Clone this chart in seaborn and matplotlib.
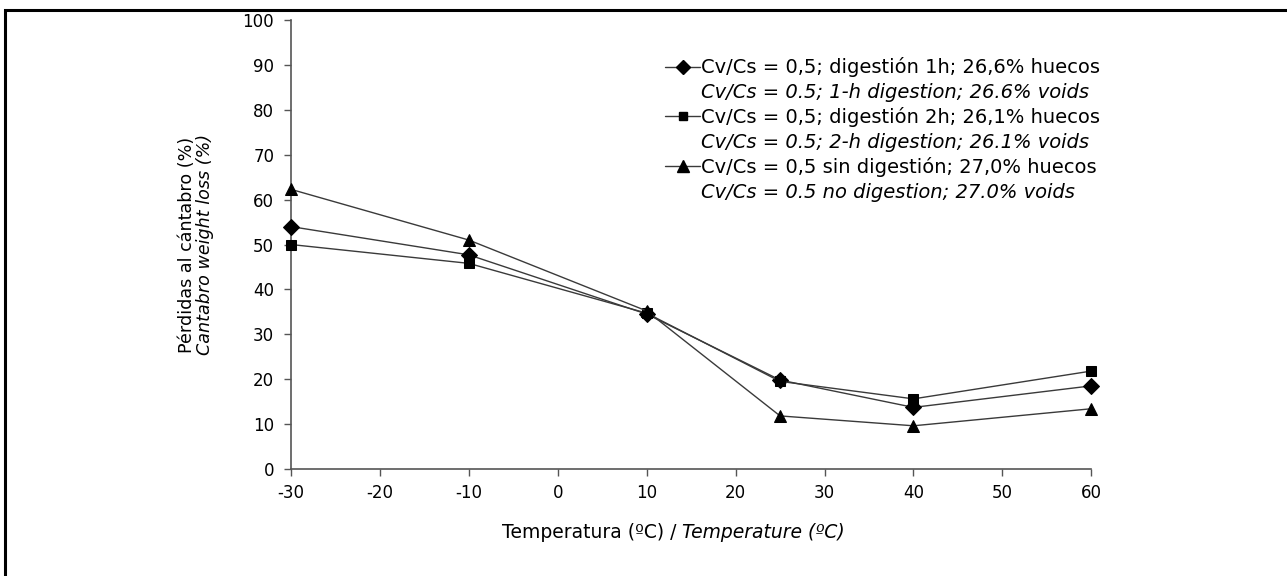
import matplotlib
matplotlib.use("Agg")
import matplotlib.pyplot as plt
import seaborn as sns
import pandas as pd
from matplotlib.lines import Line2D
from matplotlib.patches import Rectangle

# Data
temperatures = [-30, -10, 10, 25, 40, 60]
loss_1h = [54.0, 47.7, 34.5, 19.8, 13.7, 18.5]
loss_2h = [50.0, 45.8, 34.7, 19.5, 15.6, 21.8]
loss_none = [62.3, 51.0, 35.2, 11.8, 9.6, 13.4]

labels_es = [
    "Cv/Cs = 0,5; digestión 1h; 26,6% huecos",
    "Cv/Cs = 0,5; digestión 2h; 26,1% huecos",
    "Cv/Cs = 0,5 sin digestión; 27,0% huecos",
]
labels_en = [
    "Cv/Cs = 0.5; 1-h digestion; 26.6% voids",
    "Cv/Cs = 0.5; 2-h digestion; 26.1% voids",
    "Cv/Cs = 0.5 no digestion; 27.0% voids",
]
markers = ["D", "s", "^"]
marker_sizes = [8, 7, 9]

df = pd.DataFrame({
    "temp": temperatures * 3,
    "loss": loss_1h + loss_2h + loss_none,
    "serie": [labels_es[0]] * 6 + [labels_es[1]] * 6 + [labels_es[2]] * 6,
})

sns.set_theme(style="white")
plt.rcParams["font.family"] = ["DejaVu Sans"]
plt.rcParams["axes.unicode_minus"] = False
plt.rcParams["text.color"] = "black"

fig = plt.figure(figsize=(12.87, 5.76), dpi=100)
ax = fig.add_axes([0.226, 0.186, 0.622, 0.779])

line_col = "#3a3a3a"
for i, lab in enumerate(labels_es):
    sub = df[df["serie"] == lab]
    sns.lineplot(data=sub, x="temp", y="loss", ax=ax, color=line_col, linewidth=1.0,
                 marker=markers[i], markersize=marker_sizes[i], markerfacecolor="black",
                 markeredgecolor="black", legend=False, clip_on=False, zorder=3)

ax.set_xlim(-30, 60)
ax.set_ylim(0, 100)
ax.set_xticks(range(-30, 61, 10))
ax.set_yticks(range(0, 101, 10))
ax.tick_params(axis="both", labelsize=12, labelcolor="black", color="#555555",
               length=5, width=1, direction="out", bottom=True, left=True)
ax.tick_params(axis="y", pad=7)
ax.tick_params(axis="x", pad=6)
for side in ["top", "right"]:
    ax.spines[side].set_visible(False)
for side in ["left", "bottom"]:
    ax.spines[side].set_color("#555555")
    ax.spines[side].set_linewidth(1.2)
ax.set_xlabel("")
ax.set_ylabel("")

# y axis title, two lines (Spanish / italic English)
fig.text(0.145, 0.575, "Pérdidas al cántabro (%)", rotation=90, ha="center", va="center",
         fontsize=12.6)
fig.text(0.159, 0.575, "Cantabro weight loss (%)", rotation=90, ha="center", va="center",
         fontsize=12.6, style="italic")

# x axis title, Spanish normal + English italic
fig.text(0.530, 0.076, "Temperatura (ºC) / ", ha="right", va="center", fontsize=13.5)
fig.text(0.530, 0.076, "Temperature (ºC)", ha="left", va="center", fontsize=13.5,
         style="italic")

# legend: one row with marker + Spanish label, one row for the italic English label
handles = []
texts = []
for i in range(3):
    handles.append(Line2D([], [], color=line_col, linewidth=1.0, marker=markers[i],
                          markersize=marker_sizes[i] - 1, markerfacecolor="black",
                          markeredgecolor="black"))
    texts.append(labels_es[i])
    handles.append(Line2D([], [], linestyle="none"))
    texts.append(labels_en[i])
leg = ax.legend(handles, texts, loc="upper left", bbox_to_anchor=(0.4675, 0.917),
                frameon=False, fontsize=14, handlelength=1.8, handletextpad=0.05,
                labelspacing=0.28, borderaxespad=0, borderpad=0)
for j, t in enumerate(leg.get_texts()):
    t.set_color("black")
    if j % 2 == 1:
        t.set_fontstyle("italic")

# outer frame (top and left visible, rest clipped)
fig.patches.append(Rectangle((0.004, -0.1), 1.2, 1.083, transform=fig.transFigure,
                             fill=False, edgecolor="black", linewidth=2.2))

fig.savefig("out.png", dpi=100)
